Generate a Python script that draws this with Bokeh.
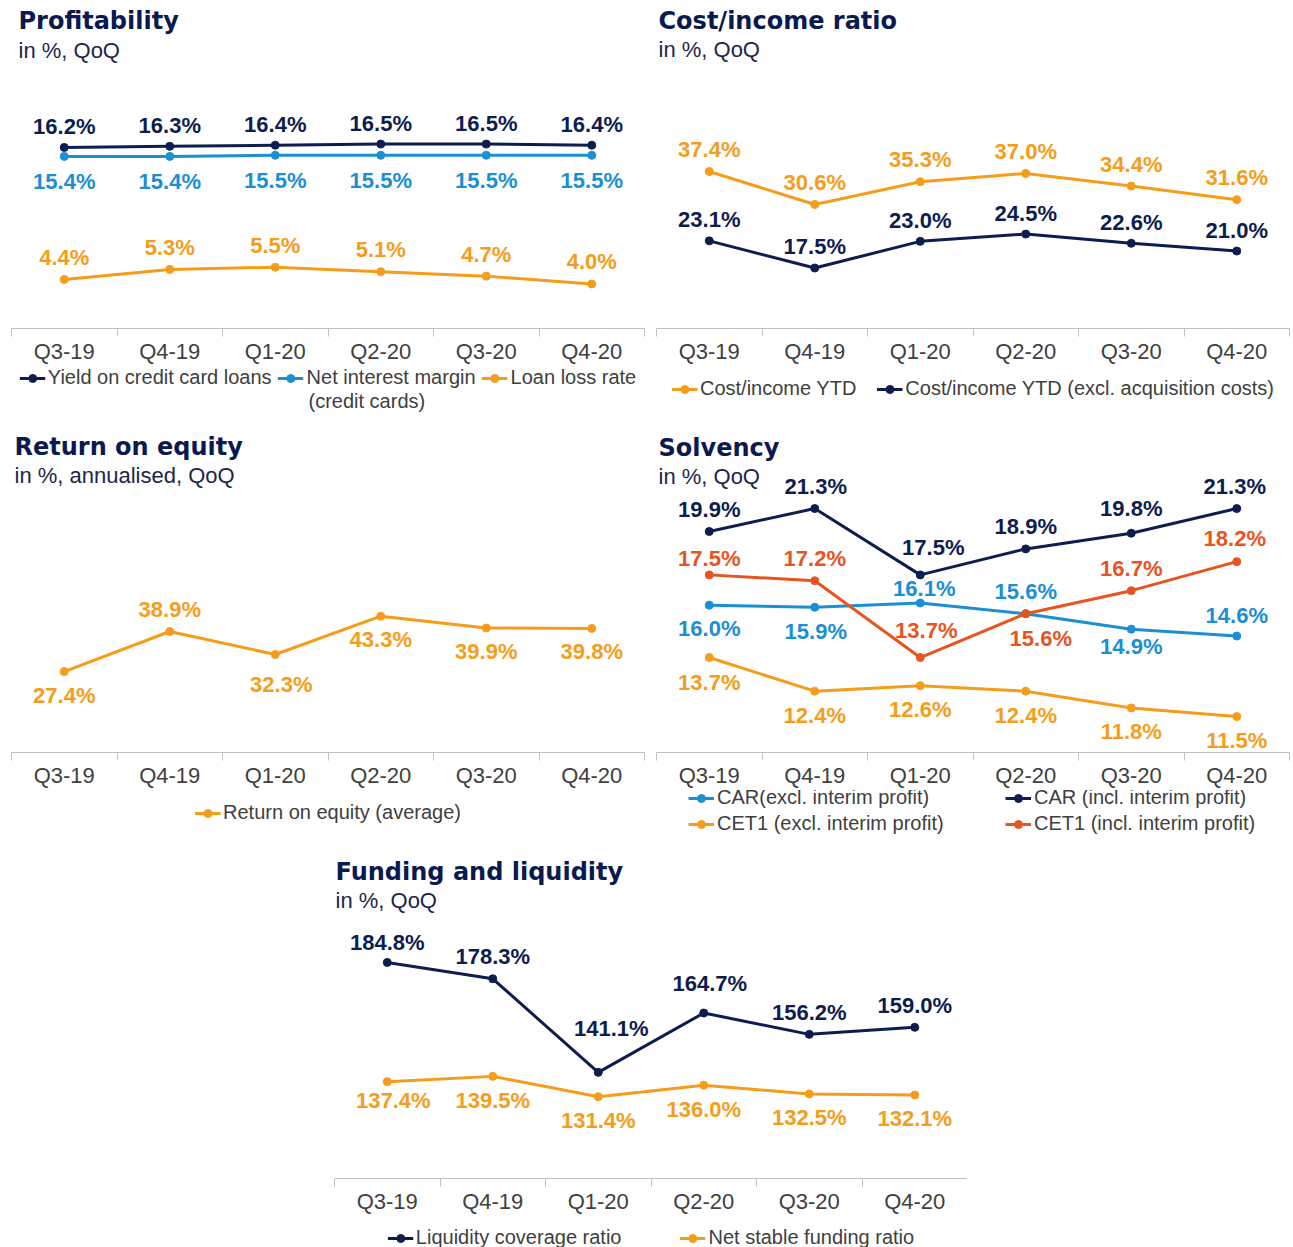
from bokeh.plotting import figure
from bokeh.models import (Range1d, LinearAxis, FixedTicker, Legend, LegendItem, Label, Spacer)
from bokeh.layouts import row, column
from bokeh.embed import file_html
from bokeh.resources import INLINE
from bokeh.core.properties import value

# ---------------- data ----------------
quarters = ["Q3-19", "Q4-19", "Q1-20", "Q2-20", "Q3-20", "Q4-20"]

yield_cc = [16.2, 16.3, 16.4, 16.5, 16.5, 16.4]
nim_cc = [15.4, 15.4, 15.5, 15.5, 15.5, 15.5]
loan_loss = [4.4, 5.3, 5.5, 5.1, 4.7, 4.0]

ci_ytd = [37.4, 30.6, 35.3, 37.0, 34.4, 31.6]
ci_excl = [23.1, 17.5, 23.0, 24.5, 22.6, 21.0]

roe = [27.4, 38.9, 32.3, 43.3, 39.9, 39.8]

car_excl = [16.0, 15.9, 16.1, 15.6, 14.9, 14.6]
car_incl = [19.9, 21.3, 17.5, 18.9, 19.8, 21.3]
cet1_excl = [13.7, 12.4, 12.6, 12.4, 11.8, 11.5]
cet1_incl = [17.5, 17.2, 13.7, 15.6, 16.7, 18.2]

lcr = [184.8, 178.3, 141.1, 164.7, 156.2, 159.0]
nsfr = [137.4, 139.5, 131.4, 136.0, 132.5, 132.1]

# category slots: centre of each quarter's band on a 0..N axis
N = len(quarters)
xpos = [i + 0.5 for i in range(N)]

# ---------------- style ----------------
NAVY = "#0d1d4f"
BLUE = "#1b8fd3"
ORANGE = "#f59d1b"
RED = "#e8541f"
TITLE_C = "#0a1a50"
SUB_C = "#1e2647"
GREY_TXT = "#404040"
AXIS_C = "#c0c0c0"
SANS = "Liberation Sans"
FRAME_W = 633
AX_H = 38


def make_panel(title, subtitle, yr, frame_h, left, right, ylog=False, tpos=(7, 12, 42)):
    p = figure(x_range=Range1d(0, N), y_range=Range1d(*yr),
               y_axis_type="log" if ylog else "linear",
               frame_width=FRAME_W, frame_height=frame_h,
               min_border_left=left, min_border_right=right, min_border_top=0,
               min_border_bottom=AX_H, x_axis_location=None, y_axis_location=None,
               toolbar_location=None, output_backend="svg", outline_line_color=None,
               border_fill_color="white", background_fill_color="white")
    p.grid.visible = False
    tick_ax = LinearAxis(ticker=FixedTicker(ticks=list(range(N + 1))),
                         axis_line_color=AXIS_C, axis_line_width=1,
                         major_tick_line_color=AXIS_C, major_tick_in=0, major_tick_out=8,
                         minor_tick_line_color=None,
                         major_label_overrides={i: "" for i in range(N + 1)},
                         major_label_text_font_size="1px", major_label_standoff=0)
    p.add_layout(tick_ax, "below")
    cat_ax = LinearAxis(ticker=FixedTicker(ticks=xpos),
                        major_label_overrides={x: q for x, q in zip(xpos, quarters)},
                        axis_line_color=None, major_tick_line_color=None,
                        minor_tick_line_color=None,
                        major_label_text_font=SANS, major_label_text_font_size="22px",
                        major_label_text_color=GREY_TXT, major_label_standoff=-4)
    p.add_layout(cat_ax, "below")
    dx, ty, sy = tpos
    p.add_layout(Label(x=dx, y=frame_h - ty, x_units="screen", y_units="screen", text=title,
                       text_font="DejaVu Sans", text_font_style="bold",
                       text_font_size="24px", text_color=TITLE_C, text_baseline="middle"))
    p.add_layout(Label(x=dx, y=frame_h - sy, x_units="screen", y_units="screen", text=subtitle,
                       text_font=SANS, text_font_size="22px", text_color=SUB_C,
                       text_baseline="middle"))
    return p


def series(p, vals, color, dy, dx=None):
    dx = dx if dx is not None else [0] * len(vals)
    p.line(xpos, vals, line_width=3, color=color)
    p.scatter(xpos, vals, size=8, color=color)
    p.text(xpos, vals, text=[f"{v:.1f}%" for v in vals], x_offset=dx, y_offset=dy,
           text_align="center", text_baseline="middle", text_font=value(SANS),
           text_font_style="bold", text_font_size="22px", text_color=color)


def legend_fig(height, left, right, items, margin, spacing=6, loc="top_center", **kw):
    """A strip below a chart that carries its legend (line-with-dot keys).
    The key renderers hold the series but fall outside this strip's ranges."""
    lp = figure(x_range=Range1d(0, 1), y_range=Range1d(-2, -1),
                frame_width=FRAME_W, frame_height=height,
                min_border_left=left, min_border_right=right, min_border_top=0,
                min_border_bottom=0, x_axis_location=None, y_axis_location=None,
                toolbar_location=None, output_backend="svg", outline_line_color=None,
                border_fill_color="white", background_fill_color="white")
    lp.grid.visible = False
    leg_items = []
    for label, color, vals in items:
        ln = lp.line(xpos, vals, line_width=3, color=color)
        sc = lp.scatter(xpos, vals, size=8, color=color)
        leg_items.append(LegendItem(label=label, renderers=[ln, sc]))
    lg = Legend(items=leg_items, orientation="horizontal", location=loc,
                border_line_color=None, background_fill_alpha=0, label_text_font=SANS,
                label_text_font_size="20px", label_text_color=GREY_TXT, glyph_width=26,
                glyph_height=20, label_height=20, label_standoff=3, spacing=spacing,
                padding=0, margin=margin, **kw)
    lp.add_layout(lg, "center")
    return lp


# ---- Profitability ----
pA = make_panel("Profitability", "in %, QoQ", (0.02, 29.33), 328, 11, 6, tpos=(7, 20, 50))
series(pA, yield_cc, NAVY, [-21] * 6)
series(pA, nim_cc, BLUE, [25] * 6)
series(pA, loan_loss, ORANGE, [-22] * 6)
hA = 426 - 328 - AX_H
lA = legend_fig(hA, 11, 6,
                [("Yield on credit card loans", NAVY, yield_cc),
                 ("Net interest margin", BLUE, nim_cc),
                 ("Loan loss rate", ORANGE, loan_loss)], 0)
lA.add_layout(Label(x=297, y=hA - 34, x_units="screen", y_units="screen",
                    text="(credit cards)", text_font=SANS, text_font_size="20px",
                    text_color=GREY_TXT, text_baseline="middle"))

# ---- Cost/income ----
pB = make_panel("Cost/income ratio", "in %, QoQ", (5.03, 72.66), 328, 6, 4, tpos=(2, 20, 49))
series(pB, ci_ytd, ORANGE, [-22] * 6)
series(pB, ci_excl, NAVY, [-21, -22, -21, -21, -21, -21])
lB = legend_fig(426 - 328 - AX_H, 6, 4,
                [("Cost/income YTD", ORANGE, ci_ytd),
                 ("Cost/income YTD (excl. acquisition costs)", NAVY, ci_excl)],
                11, spacing=20)

# ---- Return on equity ----
pC = make_panel("Return on equity", "in %, annualised, QoQ", (4.14, 97.8), 326, 11, 6,
                tpos=(3, 20, 49))
series(pC, roe, ORANGE, [24, -22, 30, 23, 23, 23], [0, 0, 6, 0, 0, 0])
lC = legend_fig(426 - 326 - AX_H, 11, 6, [("Return on equity (average)", ORANGE, roe)], 11)

# ---- Solvency ----
pD = make_panel("Solvency", "in %, QoQ", (10.34, 27.16), 326, 6, 4, ylog=True,
                tpos=(2, 21, 50))
series(pD, car_excl, BLUE, [23, 24, -15, -22, 17, -21], [0, 1, 4, 0, 0, 0])
series(pD, car_incl, NAVY, [-22, -22, -27, -22, -25, -22], [0, 1, 13, 0, 0, -2])
series(pD, cet1_excl, ORANGE, [25, 24, 24, 24, 24, 24])
series(pD, cet1_incl, RED, [-16, -22, -27, 25, -22, -23], [0, 0, 6, 15, 0, -2])
lD = legend_fig(426 - 326 - AX_H, 6, 4,
                [("CAR(excl. interim profit)", BLUE, car_excl),
                 ("CAR (incl. interim profit)", NAVY, car_incl),
                 ("CET1 (excl. interim profit)", ORANGE, cet1_excl),
                 ("CET1 (incl. interim profit)", RED, cet1_incl)],
                0, spacing=3, loc=(32, 17), ncols=2, label_width=285)

# ---- Funding and liquidity ----
pE = make_panel("Funding and liquidity", "in %, QoQ", (98.9, 228.5), 326, 0, 0,
                tpos=(1, 19, 48))
series(pE, lcr, NAVY, [-20, -22, -44, -29, -22, -22], [0, 0, 13, 6, 0, 0])
series(pE, nsfr, ORANGE, [19, 24, 24, 24, 24, 24], [6, 0, 0, 0, 0, 0])
lE = legend_fig(1247 - 852 - 326 - AX_H, 0, 0,
                [("Liquidity coverage ratio", NAVY, lcr),
                 ("Net stable funding ratio", ORANGE, nsfr)],
                10, spacing=58)

page = column(row(column(pA, lA), column(pB, lB)),
              row(column(pC, lC), column(pD, lD)),
              row(Spacer(width=334, height=10), column(pE, lE)))

open("out.html", "w").write(file_html(page, INLINE))
